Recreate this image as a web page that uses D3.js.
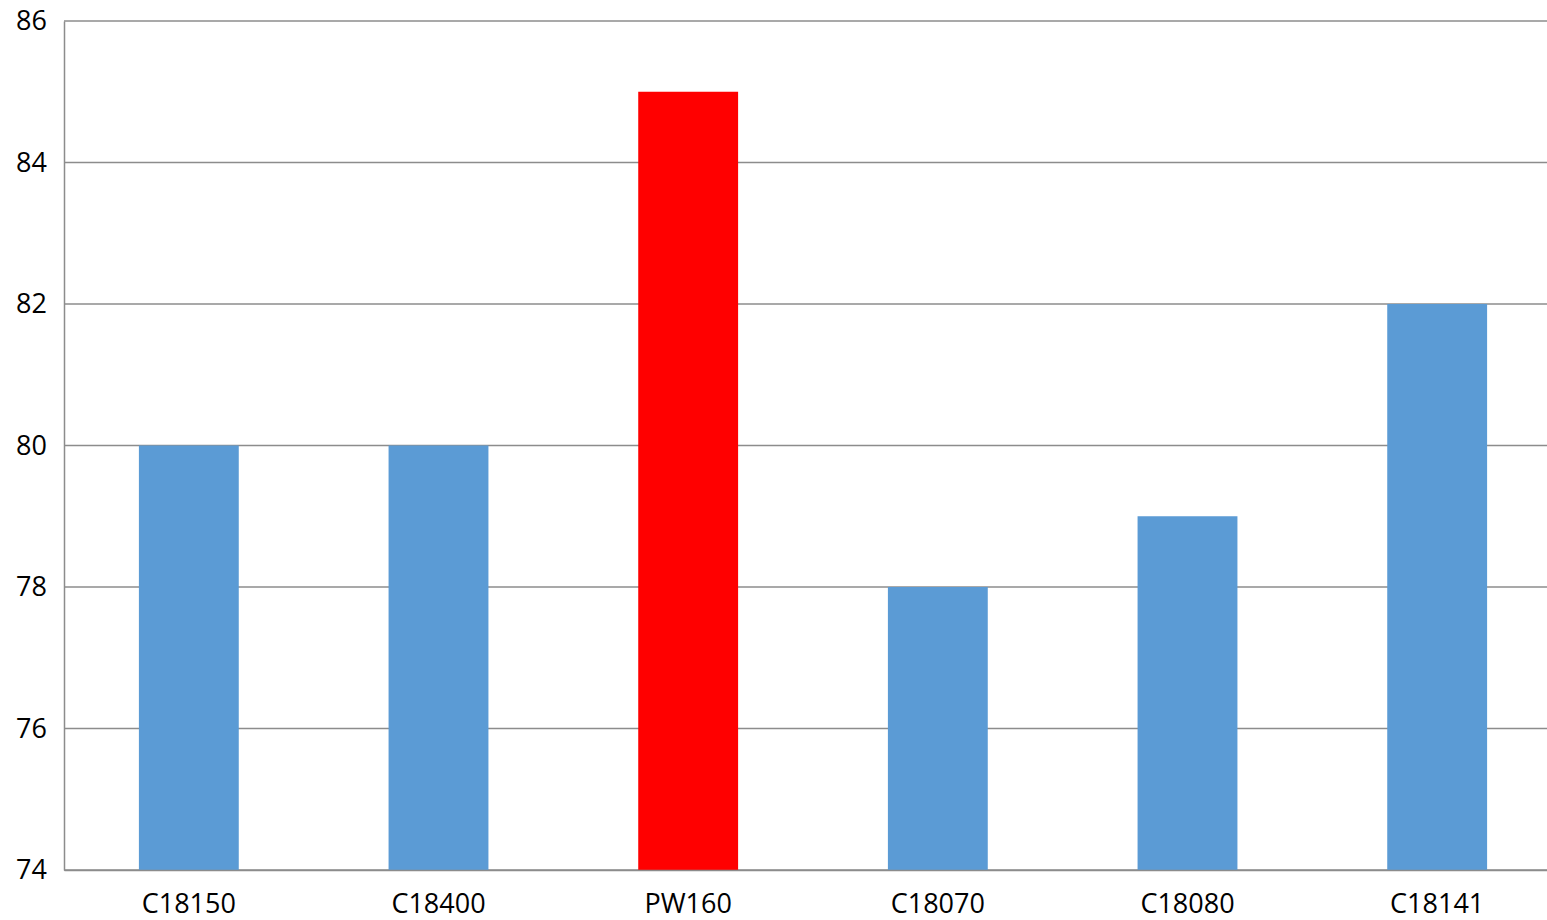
<!DOCTYPE html>
<html>
<head>
<meta charset="utf-8">
<script src="https://cdn.jsdelivr.net/npm/d3@7"></script>
<style>
  body { margin: 0; background: #fff; overflow: hidden; }
  text { font-family: "Open Sans", "Noto Sans", sans-serif; fill: #000; }
</style>
</head>
<body>
<svg id="chart"></svg>
<script>
const categories = ["C18150", "C18400", "PW160", "C18070", "C18080", "C18141"];
const values = [80, 80, 85, 78, 79, 82];
const barColors = ["#5b9bd5", "#5b9bd5", "#ff0000", "#5b9bd5", "#5b9bd5", "#5b9bd5"];
const yTicks = [74, 76, 78, 80, 82, 84, 86];

const config = {
  containerWidth: 1547,
  containerHeight: 920,
  margin: { top: 21, right: 0, bottom: 50, left: 64 },
};

const width = config.containerWidth - config.margin.left - config.margin.right;
const height = config.containerHeight - config.margin.top - config.margin.bottom;
// the plot area runs a little past the right edge of the picture
const plotWidth = 1498;

const svg = d3.select("#chart")
  .attr("width", config.containerWidth)
  .attr("height", config.containerHeight);

const chart = svg.append("g")
  .attr("transform", `translate(${config.margin.left},${config.margin.top})`);

const xScale = d3.scaleBand()
  .domain(categories)
  .range([0, plotWidth])
  .paddingInner(0.6)
  .paddingOuter(0.3);

const yScale = d3.scaleLinear()
  .domain([74, 86])
  .range([height, 0]);

// gridlines
chart.append("g")
  .selectAll("line")
  .data(yTicks)
  .join("line")
  .attr("x1", 0)
  .attr("x2", plotWidth)
  .attr("y1", d => yScale(d))
  .attr("y2", d => yScale(d))
  .attr("stroke", "#8c8c8c")
  .attr("stroke-width", 1.5);

// bars
chart.selectAll(".bar")
  .data(categories)
  .join("rect")
  .attr("class", "bar")
  .attr("x", d => xScale(d))
  .attr("width", xScale.bandwidth())
  .attr("y", (d, i) => yScale(values[i]))
  .attr("height", (d, i) => height - yScale(values[i]))
  .attr("fill", (d, i) => barColors[i]);

// y axis
const yAxis = chart.append("g")
  .call(d3.axisLeft(yScale).tickValues(yTicks).tickSize(0).tickPadding(17));
yAxis.select(".domain").attr("stroke", "#8c8c8c").attr("stroke-width", 1.5);
yAxis.selectAll("text").attr("font-size", "27px").attr("font-family", null);

// x axis
const xAxis = chart.append("g")
  .attr("transform", `translate(0,${height})`)
  .call(d3.axisBottom(xScale).tickSize(0).tickPadding(24).tickSizeOuter(0));
xAxis.select(".domain").attr("stroke", "#8c8c8c").attr("stroke-width", 1.5);
xAxis.selectAll("text").attr("font-size", "27px").attr("font-family", null);
</script>
</body>
</html>
